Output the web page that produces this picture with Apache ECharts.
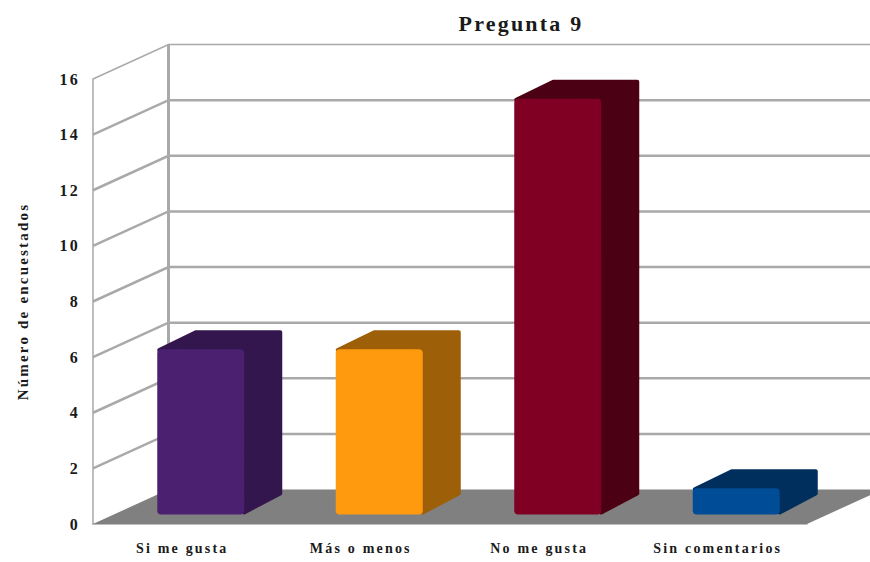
<!DOCTYPE html>
<html>
<head>
<meta charset="utf-8">
<title>Pregunta 9</title>
<style>
html,body{margin:0;padding:0;background:#fff;}
#chart{width:870px;height:562px;}
/* las etiquetas del original van muy espaciadas */
#chart svg text{letter-spacing:2.2px;}
</style>
<script src="https://cdn.jsdelivr.net/npm/echarts@6/dist/echarts.min.js"></script>
</head>
<body>
<div id="chart"></div>
<script>
var categories = ["Si me gusta", "Más o menos", "No me gusta", "Sin comentarios"];
var values = [6, 6, 15, 1];
var yTicks = [0, 2, 4, 6, 8, 10, 12, 14, 16];
var frontColors = ["#4c2070", "#ff9a0e", "#7f0022", "#004c97"];
var sideColors = ["#32164d", "#9d5f08", "#4b0013", "#002f5e"];

var wallDx = 75.5, wallDy = -34.5;  // fondo de la caja 3D
var baseDx = 18.5, baseDy = -9.5;   // donde empieza la cara frontal de la barra
var barDx = 38, barDy = -19;        // profundidad de la barra
var barWidth = 87;
var gridColor = "#a9a9a9";

// paredes, lineas de la cuadricula y suelo
function renderWalls(params, api) {
    var v = api.value(1);
    var p = api.coord([0, v]);
    var band = api.size([1, 0])[0];
    var x0 = p[0] - band / 2;
    var x1 = x0 + band * categories.length;
    var backX = x0 + wallDx, backY = p[1] + wallDy;
    var children = [];

    if (v === 0) {
        children.push({
            type: "polygon",
            shape: {points: [[x0, p[1]], [x1, p[1]], [x1 + wallDx, backY], [backX, backY]]},
            style: {fill: "#808080"}
        });
    } else {
        var w = v === yTicks[yTicks.length - 1] ? 1.5 : 2.5;
        children.push({
            type: "polyline",
            shape: {points: [[x0, p[1]], [backX, backY], [x1 + wallDx, backY]]},
            style: {fill: "none", stroke: gridColor, lineWidth: w}
        });
    }
    if (v === yTicks[yTicks.length - 1]) {
        var b = api.coord([0, 0]);
        children.push({
            type: "line",
            shape: {x1: backX, y1: backY, x2: backX, y2: b[1] + wallDy},
            style: {stroke: gridColor, lineWidth: 3}
        });
    }
    return {type: "group", children: children};
}

function renderBar(params, api) {
    var i = api.value(0);
    var top = api.coord([i, api.value(1)]);
    var bottom = api.coord([i, 0]);
    var l = top[0] + baseDx - barWidth / 2;
    var r = l + barWidth;
    var t = top[1] + baseDy + 1.5;
    var b = bottom[1] + baseDy;
    var side = sideColors[i];
    return {
        type: "group",
        children: [
            {   // costado y tapa, el trazo redondea las esquinas
                type: "polygon",
                shape: {points: [
                    [l + 2, t + 1],
                    [l + barDx + 1, t + barDy + 2],
                    [r + barDx - 2, t + barDy + 2],
                    [r + barDx - 2, b + barDy - 2],
                    [r, b - 2],
                    [r - 2, t]
                ]},
                style: {fill: side, stroke: side, lineWidth: 4, lineJoin: "round"}
            },
            {
                type: "rect",
                shape: {x: l, y: t, width: barWidth, height: b - t, r: 4},
                style: {fill: frontColors[i]}
            }
        ]
    };
}

var myChart = echarts.init(document.getElementById("chart"), null, {renderer: "svg"});
var option = {
    animation: false,
    backgroundColor: "#fff",
    textStyle: {fontFamily: "Liberation Serif"},
    title: {
        text: "Pregunta 9",
        left: 516,
        top: 7,
        textAlign: "center",
        textStyle: {fontFamily: "Liberation Serif", fontSize: 22, fontWeight: "bold", color: "#1a1a1a"}
    },
    grid: {left: 93, right: 63, top: 79, bottom: 38},
    xAxis: {
        type: "category",
        data: categories,
        axisTick: {show: false},
        axisLine: {lineStyle: {color: gridColor, width: 1.5}},
        axisLabel: {
            margin: 17,
            interval: 0,
            fontFamily: "Liberation Serif",
            fontSize: 14,
            fontWeight: "bold",
            color: "#1a1a1a"
        }
    },
    yAxis: {
        type: "value",
        min: 0,
        max: 16,
        interval: 2,
        name: "Número de encuestados",
        nameLocation: "middle",
        nameGap: 63,
        nameRotate: 90,
        nameTextStyle: {fontFamily: "Liberation Serif", fontSize: 15, fontWeight: "bold", color: "#1a1a1a"},
        splitLine: {show: false},
        axisTick: {show: false},
        axisLine: {show: true, lineStyle: {color: gridColor, width: 1.5}},
        axisLabel: {
            margin: 13,
            fontFamily: "Liberation Serif",
            fontSize: 16,
            fontWeight: "bold",
            color: "#1a1a1a"
        }
    },
    series: [
        {
            type: "custom",
            z: 1,
            clip: false,
            renderItem: renderWalls,
            encode: {x: 0, y: 1},
            data: yTicks.map(function (v) { return [0, v]; })
        },
        {
            type: "custom",
            z: 3,
            clip: false,
            renderItem: renderBar,
            encode: {x: 0, y: 1},
            data: values.map(function (v, i) { return [i, v]; })
        }
    ]
};
myChart.setOption(option);
</script>
</body>
</html>
